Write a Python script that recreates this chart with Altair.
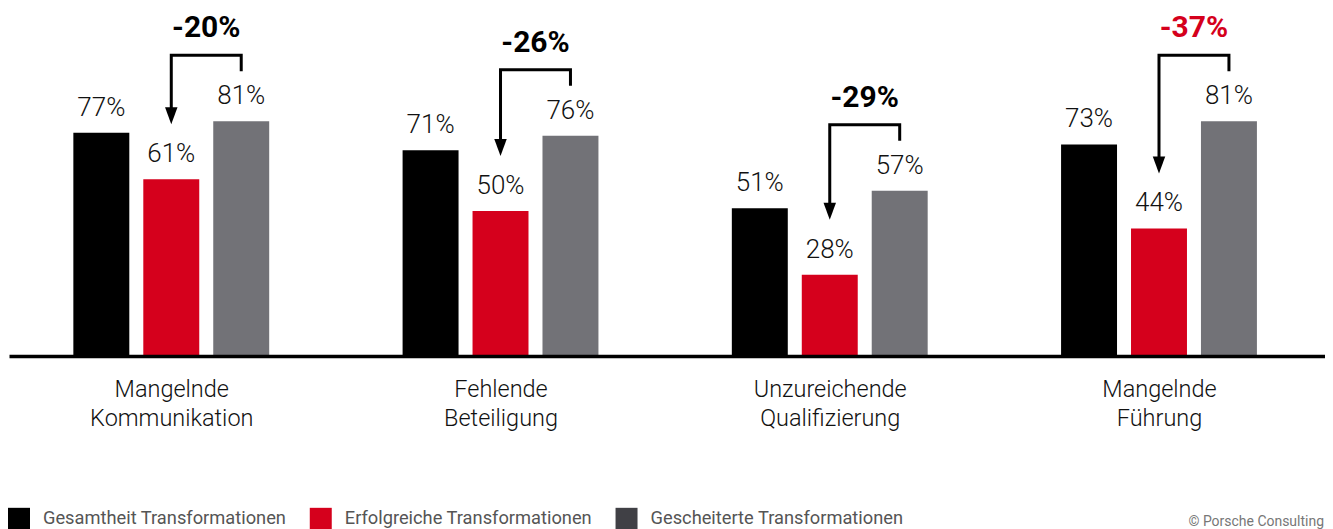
import json
import altair as alt
import pandas as pd

# ---------------- data ----------------
categories = [
    ["Mangelnde", "Kommunikation"],
    ["Fehlende", "Beteiligung"],
    ["Unzureichende", "Qualifizierung"],
    ["Mangelnde", "Führung"],
]
series = ["Gesamtheit Transformationen", "Erfolgreiche Transformationen", "Gescheiterte Transformationen"]
gesamt = [77, 71, 51, 73]
erfolgreich = [61, 50, 28, 44]
gescheitert = [81, 76, 57, 81]
changes = [-20, -26, -29, -37]
copyright_text = "© Porsche Consulting"

# ---------------- styles / layout ----------------
BAR_COLORS = ["#000000", "#d5001c", "#727277"]
LEGEND_COLORS = ["#000000", "#d5001c", "#404045"]
RED = "#d5001c"
FONT = "Roboto"
WIDTH, HEIGHT = 1317, 348
YMAX = 120.0
PXU = YMAX / HEIGHT          # data units per pixel
G = 4.707                    # group spacing in bar steps
XMIN = -2.32
XMAX = XMIN + WIDTH / 70.0
HALF = 0.4

values = [gesamt, erfolgreich, gescheitert]
rows = []
for i in range(len(categories)):
    for j, s in enumerate(series):
        c = i * G + (j - 1)
        v = values[j][i]
        rows.append({"series": s, "xc": c, "x0": c - HALF, "x1": c + HALF,
                     "value": v, "label": f"{v}%"})
bars_df = pd.DataFrame(rows)

line_rows, head_rows, chg_rows = [], [], []
for i in range(len(categories)):
    rx, gx = i * G, i * G + 1
    r, g = erfolgreich[i], gescheitert[i]
    pts = [(gx, g + 50 * PXU), (gx, g + 66 * PXU), (rx, g + 66 * PXU), (rx, r + 67 * PXU)]
    for k, (px, py) in enumerate(pts):
        line_rows.append({"grp": i, "ord": k, "x": px, "y": py})
    head_rows.append({"x": rx, "y": r + 63.5 * PXU})
    chg_rows.append({"x": (rx + gx) / 2, "y": g + 93 * PXU, "change": changes[i],
                     "text": f"{changes[i]}%"})
line_df = pd.DataFrame(line_rows)
head_df = pd.DataFrame(head_rows)
chg_df = pd.DataFrame(chg_rows)

lines_expr = json.dumps(categories, ensure_ascii=False)
X_AXIS = alt.Axis(
    values=[i * G for i in range(len(categories))],
    labelExpr=f"{lines_expr}[round(datum.value / {G})]",
    domain=True, domainColor="#000000", domainWidth=3.5,
    ticks=False, grid=False, title=None,
    labelFont=FONT, labelFontSize=23.5, labelColor="#111111", labelFontWeight=300,
    labelLineHeight=29, labelPadding=22, labelAlign="center",
    labelBaseline="top", labelOverlap=False, labelFlush=False, labelBound=False,
    zindex=1,
)
XS = alt.Scale(domain=[XMIN, XMAX], nice=False, zero=False)
YS = alt.Scale(domain=[0, YMAX], nice=False)


def X(field):
    return alt.X(field, type="quantitative", scale=XS, axis=X_AXIS)


def Y(field):
    return alt.Y(field, type="quantitative", scale=YS, axis=None)


legend = alt.Legend(
    orient="none", legendX=-1, legendY=500, direction="horizontal", title=None,
    symbolType="square", symbolSize=484, symbolStrokeWidth=0, symbolOpacity=1,
    labelFont=FONT, labelFontSize=18.3, labelColor="#555555", labelOffset=13,
    labelLimit=500, columnPadding=23, padding=0,
)

# hidden carrier of the legend (tiny squares under the bars)
legend_layer = alt.Chart(bars_df).mark_square(size=4, opacity=1).encode(
    x=X("xc"), y=alt.Y("value", type="quantitative", scale=YS, axis=None),
    fill=alt.Fill("series:N", scale=alt.Scale(domain=series, range=LEGEND_COLORS),
                  legend=legend, sort=series),
).transform_calculate(value="0")

bars = alt.Chart(bars_df).mark_bar().encode(
    x=X("x0"), x2="x1", y=Y("value"), y2=alt.datum(0),
    color=alt.Color("series:N", scale=alt.Scale(domain=series, range=BAR_COLORS), legend=None),
)

value_labels = alt.Chart(bars_df).mark_text(
    dy=-25, fontSize=26, fontWeight=300, font=FONT, color="#111111", baseline="middle",
    align="center"
).encode(x=X("xc"), y=Y("value"), text="label:N")

brackets = alt.Chart(line_df).mark_line(color="#000000", strokeWidth=3, strokeCap="butt",
                                        strokeJoin="miter").encode(
    x=X("x"), y=Y("y"), detail="grp:N", order="ord:Q"
)

heads = alt.Chart(head_df).mark_point(
    shape="M-0.735,-1 L0.735,-1 L0,1 Z", size=289, filled=True, color="#000000", opacity=1,
    strokeWidth=0,
).encode(x=X("x"), y=Y("y"))

min_change = min(changes)
change_labels = alt.Chart(chg_df).mark_text(
    fontSize=30, fontWeight="bold", font=FONT, baseline="middle", align="center"
).encode(
    x=X("x"), y=Y("y"), text="text:N",
    color=alt.condition(f"datum.change == {min_change}", alt.value(RED), alt.value("#000000")),
)

copy_mark = alt.Chart(pd.DataFrame({"t": [copyright_text]})).mark_text(
    font=FONT, fontSize=14, color="#777777", align="right", baseline="middle"
).encode(x=alt.value(1316), y=alt.value(514), text="t:N")

chart = alt.layer(legend_layer, bars, value_labels, brackets, heads, change_labels, copy_mark).properties(
    width=WIDTH, height=HEIGHT, background="#ffffff",
    padding={"left": 0, "top": 0, "right": 0, "bottom": 0},
).configure_view(strokeWidth=0, stroke=None)

chart.save("out.html", embed_options={"renderer": "svg", "actions": False})
